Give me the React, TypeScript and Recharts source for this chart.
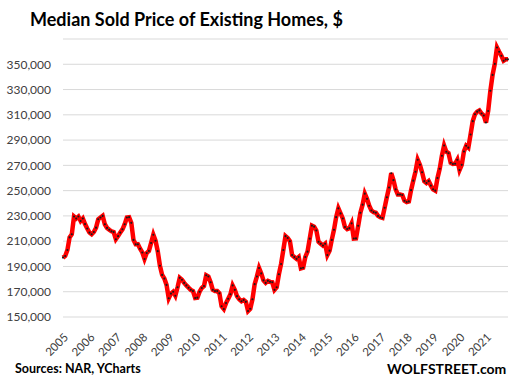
import { LineChart, Line, XAxis, YAxis, CartesianGrid } from 'recharts';

// monthly median price, $ thousands (Jan..Dec)
const years = ['2005', '2006', '2007', '2008', '2009', '2010', '2011', '2012', '2013', '2014', '2015', '2016', '2017', '2018', '2019', '2020', '2021'];
const p2005 = [197, 198.3, 203, 213, 215.5, 229.5, 228, 229.5, 226, 228, 223.5, 220];
const p2006 = [216.8, 215.5, 217.3, 220.7, 227.3, 228.7, 230, 223.4, 220.5, 219, 217.8, 217.2];
const p2007 = [211.5, 214, 216.8, 219.4, 223.4, 228.7, 229, 224.5, 211, 207.5, 207.5, 204];
const p2008 = [201.1, 195.9, 200.7, 202.3, 208.6, 215.1, 210.4, 202.1, 190.6, 183.3, 180.4, 175.4];
const p2009 = [164.8, 168.5, 170, 166.8, 173.5, 181, 179.5, 177, 175, 173.2, 171.5, 170.5];
const p2010 = [165, 165.3, 170, 173, 174.5, 183, 182, 177.5, 171.5, 170.5, 170.5, 168.7];
const p2011 = [158.5, 156.3, 161, 164.5, 168, 175, 171.5, 166.5, 164, 162.5, 163.5, 162];
const p2012 = [154.7, 156.5, 164, 176, 182, 188.8, 184.5, 179, 177, 178.6, 177.8, 177.5];
const p2013 = [171.5, 173.5, 183.8, 192, 203, 214, 212.5, 210, 199, 197.5, 196, 197.5];
const p2014 = [188.5, 189, 197.5, 201.7, 212, 222.3, 221.5, 218.5, 209.5, 208, 206.5, 208];
const p2015 = [199, 202.5, 211, 219, 229, 236, 232, 228, 221.2, 219.6, 220.3, 224.1];
const p2016 = [212.1, 212.2, 222.2, 232.5, 238.9, 247.6, 243.5, 238, 234.3, 233, 232.5, 230];
const p2017 = [228.9, 228.4, 236.4, 244.8, 252.5, 263.8, 258.3, 251, 247, 247, 246.5, 242];
const p2018 = [241, 241.5, 250.4, 257.9, 265, 274.5, 270.5, 264.5, 257.5, 256, 257.5, 254];
const p2019 = [251, 250, 260, 267.3, 277.6, 285.7, 280.8, 279.6, 272.1, 271.1, 271.3, 274.5];
const p2020 = [266.3, 270.4, 281, 285.5, 284, 294.4, 305, 310.4, 312.5, 313.5, 311, 309.5];
const p2021 = [303.9, 313, 329.1, 341.6, 350.3, 363.3, 359.9, 356.7, 352.8, 353.9, 353.9];

const yTicks = [150000, 170000, 190000, 210000, 230000, 250000, 270000, 290000, 310000, 330000, 350000];

const data = [p2005, p2006, p2007, p2008, p2009, p2010, p2011, p2012, p2013, p2014, p2015, p2016, p2017, p2018, p2019, p2020, p2021]
  .flatMap((vals, i) => vals.map((v, j) => ({ month: `${years[i]}-${j + 1}`, price: v * 1000 })));

// eslint-disable-next-line @typescript-eslint/no-explicit-any
function YearTick({ x, payload }: any) {
  const ax = x + 6;
  const ay = 338;
  return (
    <text x={ax} y={ay} transform={`rotate(-45, ${ax}, ${ay})`} textAnchor="end" fontSize={11.5} fill="#404040" fontFamily="Lato">
      {String(payload.value).slice(0, 4)}
    </text>
  );
}

// eslint-disable-next-line @typescript-eslint/no-explicit-any
function Dot({ cx, cy }: any) {
  return <circle cx={cx} cy={cy} r={1.05} fill="#1a1a1a" />;
}

export default function App() {
  return (
    <div style={{ position: 'absolute', left: 0, top: 0, width: 512, height: 382, background: '#fff', fontFamily: 'Lato' }}>
      <div style={{ position: 'absolute', left: 30, top: 8, fontSize: 18, fontWeight: 700, color: '#000', whiteSpace: 'nowrap' }}>
        Median Sold Price of Existing Homes, $
      </div>
      <LineChart width={512} height={382} data={data} margin={{ top: 39, right: 4, left: 0, bottom: 0 }}>
        <CartesianGrid horizontal vertical={false} stroke="#d9d9d9" />
        <XAxis
          dataKey="month"
          interval={11}
          axisLine={false}
          tickLine={false}
          height={65}
          tick={<YearTick />}
        />
        <YAxis
          domain={[150000, 370000]}
          ticks={yTicks}
          width={63}
          axisLine={false}
          tickLine={false}
          tickMargin={6}
          tick={{ fontSize: 12, fill: '#404040', fontFamily: 'Lato' }}
          tickFormatter={v => v.toLocaleString('en-US')}
        />
        <Line
          type="linear"
          dataKey="price"
          stroke="#ff0000"
          strokeWidth={4.5}
          dot={<Dot />}
          isAnimationActive={false}
        />
      </LineChart>
      <div style={{ position: 'absolute', left: 15, top: 361, fontSize: 12.5, fontWeight: 700, color: '#000', whiteSpace: 'nowrap' }}>
        Sources: NAR, YCharts
      </div>
      <div style={{ position: 'absolute', left: 387, top: 360, fontSize: 14, fontWeight: 700, color: '#000', whiteSpace: 'nowrap' }}>
        WOLFSTREET.com
      </div>
    </div>
  );
}
